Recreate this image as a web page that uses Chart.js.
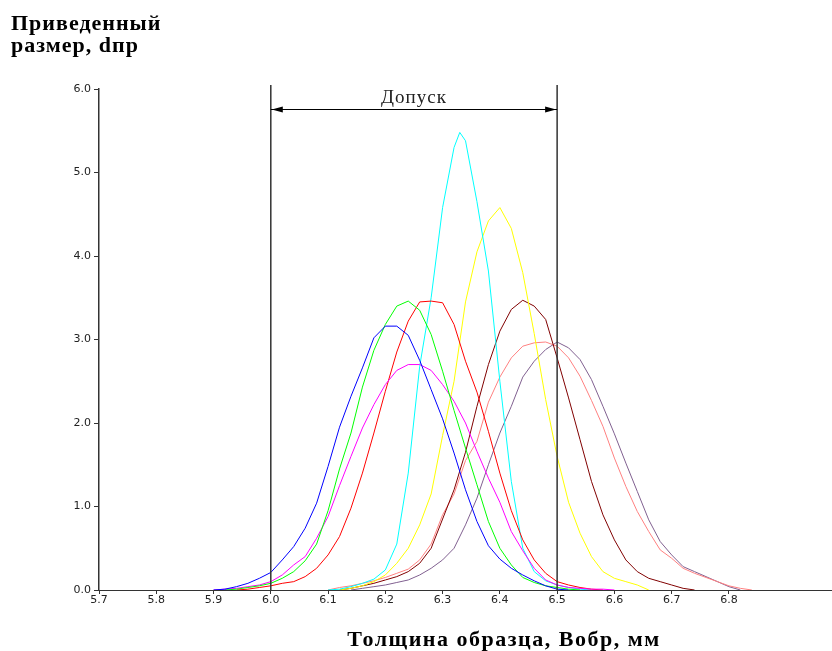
<!DOCTYPE html>
<html>
<head>
<meta charset="utf-8">
<script src="https://cdn.jsdelivr.net/npm/chart.js@4.4.1/dist/chart.umd.min.js"></script>
<style>
  body { margin: 0; background: #fff; }
  canvas { display: block; }
</style>
</head>
<body>
<canvas id="myChart" width="832" height="651"></canvas>
<script>
  // thickness (mm) and reduced size for each sample
  const blueX = [5.90,5.92,5.94,5.96,5.98,6.00,6.02,6.04,6.06,6.08,6.10,6.12,6.14,6.16,6.18,6.20,6.22,6.24,6.26,6.28,6.30,6.32,6.34,6.36,6.38,6.40,6.42,6.44,6.46,6.48,6.50,6.52];
  const blueY = [0,0.01,0.04,0.08,0.14,0.21,0.36,0.52,0.74,1.04,1.48,1.95,2.32,2.66,3.02,3.16,3.16,3.05,2.75,2.40,2.05,1.64,1.20,0.82,0.53,0.37,0.26,0.18,0.11,0.05,0.01,0];

  const greenX = [5.92,5.94,5.96,5.98,6.00,6.02,6.04,6.06,6.08,6.10,6.12,6.14,6.16,6.18,6.20,6.22,6.24,6.26,6.28,6.30,6.32,6.34,6.36,6.38,6.40,6.42,6.44,6.46,6.48,6.50,6.52,6.54];
  const greenY = [0,0.01,0.03,0.05,0.08,0.14,0.22,0.35,0.55,0.95,1.45,1.88,2.43,2.87,3.18,3.40,3.46,3.35,3.06,2.62,2.15,1.70,1.26,0.82,0.50,0.30,0.15,0.09,0.05,0.03,0.01,0];

  const magentaX = [5.90,5.92,5.94,5.96,5.98,6.00,6.02,6.04,6.06,6.08,6.10,6.12,6.14,6.16,6.18,6.20,6.22,6.24,6.26,6.28,6.30,6.32,6.34,6.36,6.38,6.40,6.42,6.44,6.46,6.48,6.50,6.52,6.54,6.56,6.58,6.60];
  const magentaY = [0,0.01,0.02,0.04,0.06,0.10,0.18,0.30,0.40,0.62,0.88,1.25,1.60,1.94,2.22,2.46,2.63,2.70,2.70,2.63,2.46,2.26,2.00,1.66,1.34,1.05,0.70,0.47,0.26,0.12,0.06,0.03,0.02,0.01,0.01,0];

  const redX = [5.94,5.96,5.98,6.00,6.02,6.04,6.06,6.08,6.10,6.12,6.14,6.16,6.18,6.20,6.22,6.24,6.26,6.28,6.30,6.32,6.34,6.36,6.38,6.40,6.42,6.44,6.46,6.48,6.50,6.52,6.54,6.56,6.58];
  const redY = [0,0.01,0.03,0.05,0.08,0.10,0.16,0.26,0.42,0.64,0.98,1.40,1.88,2.38,2.85,3.22,3.45,3.46,3.44,3.18,2.74,2.37,1.90,1.40,0.95,0.60,0.36,0.20,0.10,0.06,0.03,0.01,0];

  const cyanX = [6.10,6.12,6.14,6.16,6.18,6.20,6.22,6.24,6.26,6.28,6.30,6.32,6.33,6.34,6.36,6.38,6.40,6.42,6.44,6.46,6.48,6.50,6.52,6.54,6.56];
  const cyanY = [0,0.01,0.04,0.08,0.13,0.24,0.55,1.40,2.68,3.50,4.58,5.30,5.48,5.38,4.65,3.82,2.50,1.30,0.50,0.22,0.11,0.06,0.03,0.01,0];

  const yellowX = [6.12,6.14,6.16,6.18,6.20,6.22,6.24,6.26,6.28,6.30,6.32,6.34,6.36,6.38,6.40,6.42,6.44,6.46,6.48,6.50,6.52,6.54,6.56,6.58,6.60,6.62,6.64,6.66];
  const yellowY = [0,0.02,0.05,0.10,0.18,0.32,0.50,0.78,1.15,1.85,2.50,3.45,4.05,4.42,4.58,4.33,3.80,3.07,2.28,1.60,1.05,0.68,0.40,0.22,0.14,0.10,0.06,0];

  const brownX = [6.12,6.14,6.16,6.18,6.20,6.22,6.24,6.26,6.28,6.30,6.32,6.34,6.36,6.38,6.40,6.42,6.44,6.46,6.48,6.50,6.52,6.54,6.56,6.58,6.60,6.62,6.64,6.66,6.68,6.70,6.72,6.74];
  const brownY = [0,0.02,0.05,0.08,0.12,0.16,0.22,0.32,0.50,0.85,1.20,1.65,2.20,2.70,3.10,3.36,3.47,3.40,3.24,2.78,2.30,1.80,1.30,0.90,0.60,0.36,0.22,0.14,0.10,0.06,0.02,0];

  const salmonX = [6.10,6.12,6.14,6.16,6.18,6.20,6.22,6.24,6.26,6.28,6.30,6.32,6.34,6.36,6.38,6.40,6.42,6.44,6.46,6.48,6.50,6.52,6.54,6.56,6.58,6.60,6.62,6.64,6.66,6.68,6.70,6.72,6.74,6.76,6.78,6.80,6.82,6.84];
  const salmonY = [0,0.03,0.05,0.08,0.11,0.15,0.20,0.25,0.36,0.55,0.90,1.15,1.55,1.78,2.25,2.55,2.78,2.92,2.96,2.97,2.92,2.78,2.56,2.27,1.96,1.58,1.24,0.94,0.70,0.48,0.38,0.26,0.20,0.15,0.10,0.05,0.02,0];

  const purpleX = [6.14,6.16,6.18,6.20,6.22,6.24,6.26,6.28,6.30,6.32,6.34,6.36,6.38,6.40,6.42,6.44,6.46,6.48,6.50,6.52,6.54,6.56,6.58,6.60,6.62,6.64,6.66,6.68,6.70,6.72,6.74,6.76,6.78,6.80,6.82];
  const purpleY = [0,0.02,0.04,0.06,0.09,0.12,0.18,0.26,0.36,0.50,0.78,1.10,1.50,1.88,2.20,2.55,2.74,2.88,2.97,2.90,2.76,2.52,2.20,1.87,1.52,1.18,0.84,0.58,0.42,0.28,0.22,0.16,0.10,0.04,0];

  const tolLow = 6.0;
  const tolHigh = 6.5;

  function pts(xs, ys) {
    return xs.map((v, i) => ({ x: v, y: ys[i] }));
  }

  function line(xs, ys, color) {
    return {
      data: pts(xs, ys),
      borderColor: color,
      borderWidth: 1,
      pointRadius: 0,
      tension: 0,
      fill: false
    };
  }

  const data1 = {
    datasets: [
      line(blueX, blueY, '#0000ff'),
      line(greenX, greenY, '#00ff00'),
      line(magentaX, magentaY, '#ff00ff'),
      line(redX, redY, '#ff0000'),
      line(cyanX, cyanY, '#00ffff'),
      line(yellowX, yellowY, '#ffff00'),
      line(brownX, brownY, '#800000'),
      line(salmonX, salmonY, '#ff8080'),
      line(purpleX, purpleY, '#806090')
    ]
  };

  const tickFont = { family: '"DejaVu Sans"', size: 11 };

  // tolerance lines, arrow and axis captions
  const extras = {
    id: 'extras',
    afterDatasetsDraw(chart) {
      const { ctx, scales: { x, y } } = chart;
      const x0 = x.getPixelForValue(tolLow);
      const x1 = x.getPixelForValue(tolHigh);
      const yb = y.getPixelForValue(0);
      const top = y.top - 4;
      const ay = y.top + 20;
      ctx.save();
      ctx.strokeStyle = '#333';
      ctx.lineWidth = 1.5;
      ctx.beginPath();
      ctx.moveTo(x0, top); ctx.lineTo(x0, yb);
      ctx.moveTo(x1, top); ctx.lineTo(x1, yb);
      ctx.stroke();

      ctx.strokeStyle = '#000';
      ctx.lineWidth = 1;
      ctx.beginPath();
      ctx.moveTo(x0, ay + 0.5); ctx.lineTo(x1, ay + 0.5);
      ctx.stroke();
      ctx.fillStyle = '#000';
      ctx.beginPath();
      ctx.moveTo(x0 + 1, ay + 0.5); ctx.lineTo(x0 + 12, ay - 2.5); ctx.lineTo(x0 + 12, ay + 3.5); ctx.closePath();
      ctx.moveTo(x1 - 1, ay + 0.5); ctx.lineTo(x1 - 12, ay - 2.5); ctx.lineTo(x1 - 12, ay + 3.5); ctx.closePath();
      ctx.fill();

      ctx.fillStyle = '#222';
      ctx.font = '19px "Liberation Serif"';
      ctx.letterSpacing = '1px';
      ctx.textAlign = 'center';
      ctx.textBaseline = 'alphabetic';
      ctx.fillText('Допуск', (x0 + x1) / 2, ay - 6);
      ctx.restore();
    },
    afterDraw(chart) {
      const ctx = chart.ctx;
      ctx.save();
      ctx.fillStyle = '#000';
      ctx.textBaseline = 'alphabetic';
      ctx.textAlign = 'left';
      ctx.letterSpacing = '1px';
      ctx.font = 'bold 22px "Liberation Serif"';
      ctx.fillText('Приведенный', 11, 30);
      ctx.fillText('размер, dпр', 11, 52);
      ctx.textAlign = 'center';
      ctx.letterSpacing = '1.5px';
      ctx.font = 'bold 22px "Liberation Serif"';
      ctx.fillText('Толщина образца, Вобр, мм', 504, 646);
      ctx.restore();
    }
  };

  const config1 = {
    type: 'line',
    data: data1,
    options: {
      responsive: false,
      animation: false,
      layout: { padding: { top: 89, right: 0, bottom: 0, left: 0 } },
      plugins: {
        legend: { display: false },
        tooltip: { enabled: false }
      },
      scales: {
        x: {
          type: 'linear',
          min: 5.7,
          max: 6.98,
          afterBuildTicks: (s) => {
            s.ticks = s.ticks.filter(t => t.value <= 6.8 + 1e-9);
          },
          afterFit: (s) => { s.height = 61; },
          ticks: {
            stepSize: 0.1,
            autoSkip: false,
            maxRotation: 0,
            padding: 0,
            color: '#222',
            font: tickFont,
            callback: (v) => Number(v).toFixed(1)
          },
          grid: { drawOnChartArea: false, drawTicks: true, tickLength: 4, color: '#333' },
          border: { display: true, color: '#333', width: 1 }
        },
        y: {
          min: 0,
          max: 6,
          afterFit: (s) => { s.width = 99; },
          ticks: {
            stepSize: 1,
            padding: 3,
            color: '#222',
            font: tickFont,
            callback: (v) => Number(v).toFixed(1)
          },
          grid: { drawOnChartArea: false, drawTicks: true, tickLength: 5, color: '#333' },
          border: { display: true, color: '#333', width: 1.5 }
        }
      }
    },
    plugins: [extras]
  };

  const myChart = new Chart(
    document.getElementById('myChart'),
    config1
  );
</script>
</body>
</html>
